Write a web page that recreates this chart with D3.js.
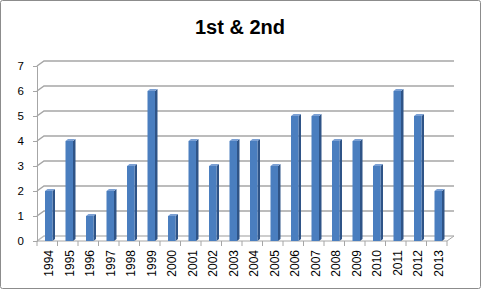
<!DOCTYPE html>
<html>
<head>
<meta charset="utf-8">
<script src="https://cdn.jsdelivr.net/npm/d3@7"></script>
<style>
  body { margin: 0; background: #fff; }
  svg { display: block; font-family: "Liberation Sans", Arial, sans-serif; }
</style>
</head>
<body>
<svg width="481" height="289"></svg>
<script>
var years = ["1994", "1995", "1996", "1997", "1998", "1999", "2000", "2001", "2002", "2003",
             "2004", "2005", "2006", "2007", "2008", "2009", "2010", "2011", "2012", "2013"];
var counts = [2, 4, 1, 2, 3, 6, 1, 4, 3, 4, 4, 3, 5, 5, 4, 4, 3, 6, 5, 2];
var yTicks = [0, 1, 2, 3, 4, 5, 6, 7];
var title = "1st & 2nd";

var svg = d3.select("svg");
var frame = {left: 37, right: 447, top: 66, bottom: 241};
var depth = {dx: 7, dy: -5};   // back wall offset

var xScale = d3.scaleBand()
    .domain(years)
    .range([frame.left, frame.right])
    .paddingInner(0).paddingOuter(0);

var yScale = d3.scaleLinear()
    .domain([0, 7])
    .range([frame.bottom, frame.top]);

// outer border
svg.append("rect")
    .attr("x", 0.5).attr("y", 0.5)
    .attr("width", 480).attr("height", 288)
    .attr("rx", 2)
    .attr("fill", "#fff")
    .attr("stroke", "#8c8c8c");

// title
svg.append("text")
    .attr("x", 240).attr("y", 34)
    .attr("text-anchor", "middle")
    .style("font-size", "20px")
    .style("font-weight", "bold")
    .text(title);

// gridlines on back wall + slanted side part
var grid = svg.append("g").attr("id", "grid");
grid.selectAll("path.g")
    .data(yTicks)
    .enter()
    .append("path")
    .attr("fill", "none")
    .attr("stroke", function(d) { return d == 0 ? "#bdbdbd" : "#a6a6a6"; })
    .attr("stroke-width", 1.5)
    .attr("d", function(d) {
        var y = yScale(d);
        return "M" + frame.left + "," + y +
               "L" + (frame.left + depth.dx) + "," + (y + depth.dy) +
               "L" + (frame.right + depth.dx) + "," + (y + depth.dy);
    });

// floor
var floor = svg.append("g").attr("id", "floor")
    .attr("fill", "none").attr("stroke", "#a6a6a6");
floor.append("path")
    .attr("d", "M" + frame.left + "," + frame.bottom + "L" + frame.right + "," + frame.bottom +
               "L" + (frame.right + depth.dx) + "," + (frame.bottom + depth.dy));

// x tick marks
floor.selectAll("line.xt")
    .data(years.concat(["end"]))
    .enter()
    .append("line")
    .attr("x1", function(d, i) { return frame.left + i * xScale.bandwidth(); })
    .attr("x2", function(d, i) { return frame.left + i * xScale.bandwidth(); })
    .attr("y1", frame.bottom)
    .attr("y2", frame.bottom + 5);

// y axis line and ticks
var yAxis = d3.axisLeft(yScale).tickValues(yTicks).tickSize(4).tickFormat(d3.format("d"));
var ya = svg.append("g")
    .attr("transform", "translate(" + frame.left + ",0)")
    .call(yAxis);
ya.select(".domain").attr("stroke", "#a6a6a6");
ya.selectAll(".tick line").attr("stroke", "#a6a6a6");
ya.selectAll(".tick text")
    .attr("x", -13)
    .style("font-size", "11.5px")
    .style("font-family", "Liberation Sans, Arial, sans-serif")
    .attr("fill", "#000");

// x labels
svg.append("g").selectAll("text")
    .data(years)
    .enter()
    .append("text")
    .attr("transform", function(d) {
        return "translate(" + (xScale(d) + xScale.bandwidth() / 2 + 6) + "," + 250 + ") rotate(-90)";
    })
    .attr("text-anchor", "end")
    .style("font-size", "12px")
    .text(function(d) { return d; });

// 3d bars
var barW = 7.5, side = 2.5, rise = -2;
var bars = svg.append("g").attr("id", "bars")
    .selectAll("g")
    .data(years)
    .enter()
    .append("g");

var bx = function(d) { return xScale(d) + xScale.bandwidth() / 2 - barW / 2 + 1.5; };
var by = function(d, i) { return yScale(counts[i]); };

bars.append("path")   // right side
    .attr("fill", "#2f5487")
    .attr("d", function(d, i) {
        var x = bx(d) + barW, y = by(d, i);
        return "M" + x + "," + y + "L" + (x + side) + "," + (y + rise) +
               "L" + (x + side) + "," + (frame.bottom + rise) + "L" + x + "," + frame.bottom + "Z";
    });
bars.append("path")   // top
    .attr("fill", "#7ba0d4")
    .attr("d", function(d, i) {
        var x = bx(d), y = by(d, i);
        return "M" + x + "," + y + "L" + (x + side) + "," + (y + rise) +
               "L" + (x + barW + side) + "," + (y + rise) + "L" + (x + barW) + "," + y + "Z";
    });
bars.append("rect")   // front
    .attr("x", bx)
    .attr("y", by)
    .attr("width", barW)
    .attr("height", function(d, i) { return frame.bottom - by(d, i); })
    .attr("fill", "#4a7ebf");
</script>
</body>
</html>
